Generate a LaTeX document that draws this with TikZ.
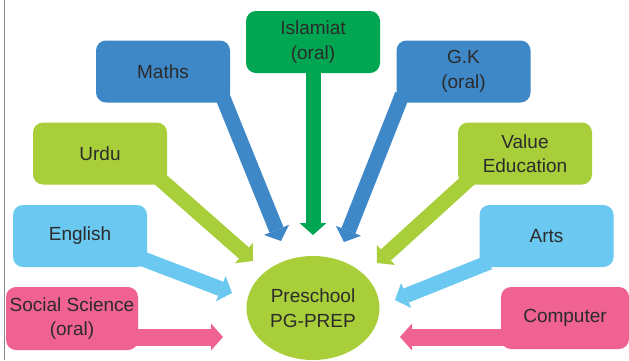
\documentclass[tikz,border=0pt]{standalone}
\usepackage{fontspec}
\setmainfont{Liberation Sans}
\usetikzlibrary{arrows.meta,shapes.geometric,calc,backgrounds}
\definecolor{cblue}{HTML}{3E88C8}
\definecolor{cgreen}{HTML}{00A651}
\definecolor{clime}{HTML}{A8CE3A}
\definecolor{csky}{HTML}{6BC8F0}
\definecolor{cpink}{HTML}{F06292}
\definecolor{ctext}{HTML}{2B2B2B}
\begin{document}
\begin{tikzpicture}[x=1pt,y=-1pt,
  box/.style={rounded corners=10pt, minimum width=134pt, minimum height=62pt,
    inner sep=0pt, align=center, text=ctext, font=\fontsize{19}{24.5}\selectfont},
  conn/.style={line width=15pt, -{Triangle[length=12pt,width=27pt,line width=0pt]}},
]
\useasboundingbox (0,0) rectangle (629,360);
\draw[color={rgb,255:red,140;green,140;blue,140}, line width=1.3pt] (4.7,0) -- (4.7,360);

% boxes
\node[box, fill=cblue]  (maths) at (163,71.5) {Maths};
\node[box, fill=cgreen] (islam) at (313,42)   {Islamiat\\(oral)};
\node[box, fill=cblue]  (gk)    at (463.5,71.5) {G.K\\(oral)};
\node[box, fill=clime]  (urdu)  at (100,153.5) {Urdu};
\node[box, fill=clime]  (value) at (525,153.5) {Value\\Education};
\node[box, fill=csky]   (eng)   at (80,236)   {English};
\node[box, fill=csky]   (arts)  at (546.5,236) {Arts};
\node[box, fill=cpink, minimum width=132pt, minimum height=63pt] (soc) at (72,318.5) {Social Science\\(oral)};
\node[box, fill=cpink, minimum width=128pt] (comp) at (565,318) {Computer};

% hub
\node[ellipse, fill=clime, minimum width=133pt, minimum height=104pt, inner sep=0pt,
  align=center, text=ctext, font=\fontsize{19}{24.5}\selectfont] (hub) at (313,308) {Preschool\\PG-PREP};

% arrow tips
\coordinate (tMaths) at (281,241);
\coordinate (tIslam) at (313,235);
\coordinate (tGk)    at (344,242);
\coordinate (tUrdu)  at (253,261);
\coordinate (tValue) at (377,263);
\coordinate (tEng)   at (232,293);
\coordinate (tArts)  at (395,300);
\coordinate (tSoc)   at (223,337);
\coordinate (tComp)  at (400,337);

\begin{scope}[on background layer]
\draw[conn, cblue]  ($(maths.south east)+(-8,-7)$) -- (tMaths);
\draw[conn, cgreen] ($(islam.south)+(0,-8)$) -- (tIslam);
\draw[conn, cblue]  ($(gk.south west)+(6,-8)$) -- (tGk);
\draw[conn, clime]  ($(urdu.south east)+(-10,-8)$) -- (tUrdu);
\draw[conn, clime]  ($(value.south west)+(12,-6)$) -- (tValue);
\draw[conn, csky]   ($(eng.south east)+(-9,-10)$) -- (tEng);
\draw[conn, csky]   ($(arts.south west)+(10,-5)$) -- (tArts);
\draw[conn, cpink, line width=17pt]  ($(soc.east)+(-10,18.5)$) -- (tSoc);
\draw[conn, cpink, line width=17pt]  ($(comp.west)+(10,19)$) -- (tComp);
\end{scope}
\end{tikzpicture}
\end{document}
